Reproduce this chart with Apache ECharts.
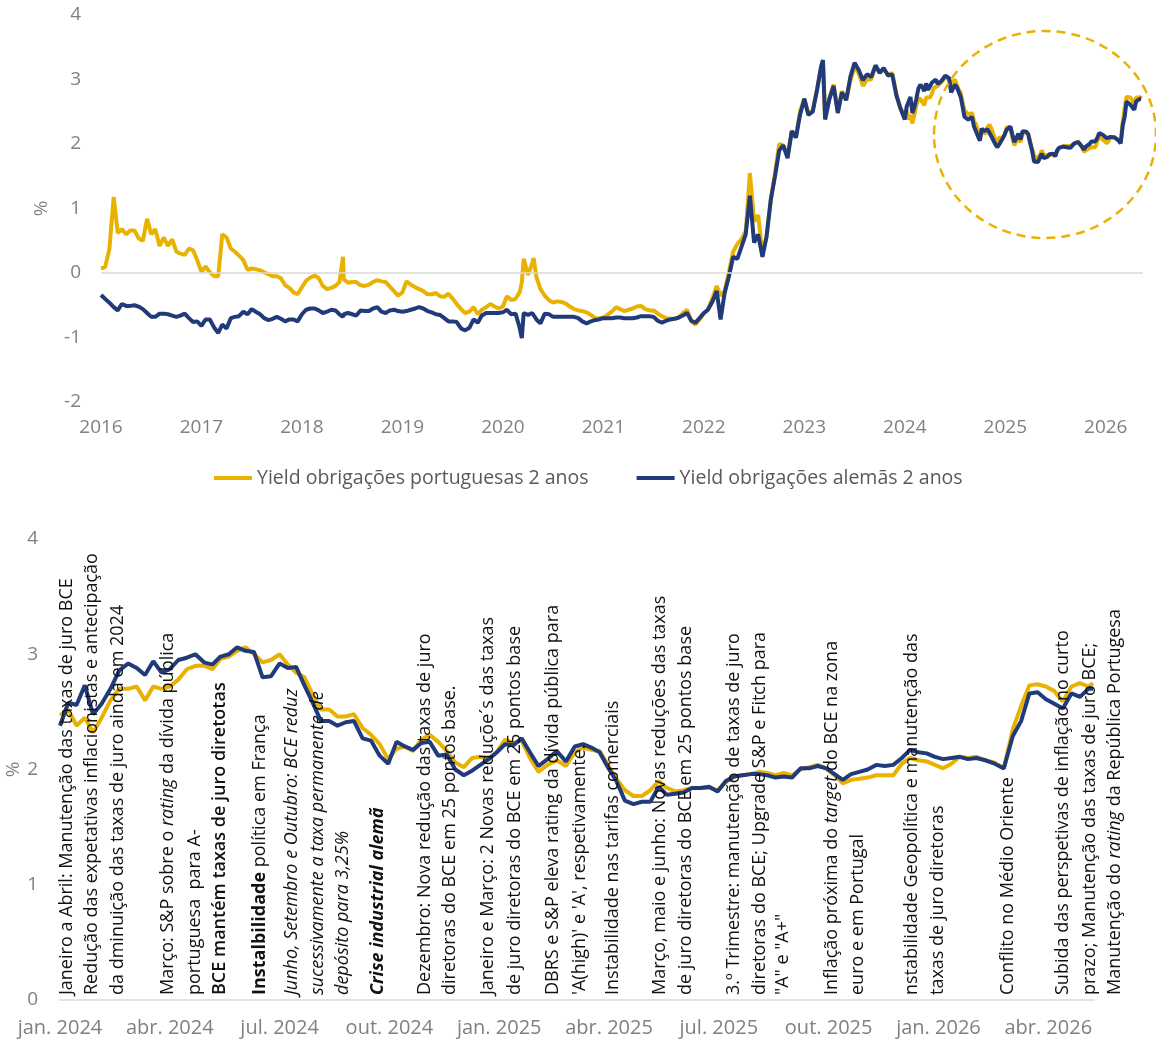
<!DOCTYPE html>
<html><head><meta charset="utf-8">
<script src="https://cdn.jsdelivr.net/npm/echarts@6/dist/echarts.min.js"></script>
<style>html,body{margin:0;padding:0;background:#fff}#c{width:1156px;height:1044px}</style>
</head><body><div id="c"></div>
<script>
// ---------- DATA ----------
const seriesNames = ['Yield obrigações portuguesas 2 anos', 'Yield obrigações alemãs 2 anos'];

// 2016-2023 (semi-monthly reading of the long chart, plus spike days)
const histDates = [
 '2016-01-01','2016-01-16','2016-02-01','2016-02-16','2016-03-01','2016-03-16','2016-04-01','2016-04-16','2016-05-01','2016-05-16','2016-06-01','2016-06-16','2016-07-01','2016-07-16','2016-08-01','2016-08-16','2016-09-01','2016-09-16','2016-10-01','2016-10-16','2016-11-01','2016-11-16','2016-12-01','2016-12-16',
 '2017-01-01','2017-01-16','2017-02-01','2017-02-16','2017-03-01','2017-03-16','2017-04-01','2017-04-16','2017-05-01','2017-05-16','2017-06-01','2017-06-16','2017-07-01','2017-07-16','2017-08-01','2017-08-16','2017-09-01','2017-09-16','2017-10-01','2017-10-16','2017-11-01','2017-11-16','2017-12-01','2017-12-16',
 '2018-01-01','2018-01-16','2018-02-01','2018-02-16','2018-03-01','2018-03-16','2018-04-01','2018-04-16','2018-05-01','2018-05-16','2018-05-29','2018-06-01','2018-06-16','2018-07-01','2018-07-16','2018-08-01','2018-08-16','2018-09-01','2018-09-16','2018-10-01','2018-10-16','2018-11-01','2018-11-16','2018-12-01','2018-12-16',
 '2019-01-01','2019-01-16','2019-02-01','2019-02-16','2019-03-01','2019-03-16','2019-04-01','2019-04-16','2019-05-01','2019-05-16','2019-06-01','2019-06-16','2019-07-01','2019-07-16','2019-08-01','2019-08-16','2019-09-01','2019-09-16','2019-10-01','2019-10-16','2019-11-01','2019-11-16','2019-12-01','2019-12-16',
 '2020-01-01','2020-01-16','2020-02-01','2020-02-16','2020-03-01','2020-03-09','2020-03-16','2020-04-01','2020-04-16','2020-04-21','2020-05-01','2020-05-16','2020-06-01','2020-06-16','2020-07-01','2020-07-16','2020-08-01','2020-08-16','2020-09-01','2020-09-16','2020-10-01','2020-10-16','2020-11-01','2020-11-16','2020-12-01','2020-12-16',
 '2021-01-01','2021-01-16','2021-02-01','2021-02-16','2021-03-01','2021-03-16','2021-04-01','2021-04-16','2021-05-01','2021-05-16','2021-06-01','2021-06-16','2021-07-01','2021-07-16','2021-08-01','2021-08-16','2021-09-01','2021-09-16','2021-10-01','2021-10-16','2021-11-01','2021-11-16','2021-12-01','2021-12-16',
 '2022-01-01','2022-01-16','2022-02-01','2022-02-16','2022-03-01','2022-03-16','2022-04-01','2022-04-16','2022-05-01','2022-05-16','2022-06-01','2022-06-16','2022-07-01','2022-07-16','2022-08-01','2022-08-16','2022-09-01','2022-09-16','2022-10-01','2022-10-16','2022-11-01','2022-11-16','2022-12-01','2022-12-16',
 '2023-01-01','2023-01-16','2023-02-01','2023-02-16','2023-03-01','2023-03-08','2023-03-16','2023-04-01','2023-04-16','2023-05-01','2023-05-16','2023-06-01','2023-06-16','2023-07-01','2023-07-16','2023-08-01','2023-08-16','2023-09-01','2023-09-16','2023-10-01','2023-10-16','2023-11-01','2023-11-16','2023-12-01','2023-12-16'
];
const histPT = [
 0.07,0.09,0.37,1.18,0.62,0.68,0.60,0.66,0.66,0.54,0.50,0.84,0.60,0.68,0.42,0.55,0.42,0.52,0.33,0.30,0.28,0.38,0.35,0.20,
 0.02,0.10,0.01,-0.05,-0.05,0.60,0.55,0.38,0.33,0.27,0.20,0.05,0.07,0.06,0.04,0.01,-0.02,-0.05,-0.05,-0.08,-0.19,-0.23,-0.30,-0.33,
 -0.22,-0.12,-0.07,-0.04,-0.08,-0.20,-0.25,-0.23,-0.20,-0.14,0.25,-0.10,-0.15,-0.14,-0.14,-0.19,-0.20,-0.18,-0.14,-0.11,-0.13,-0.14,-0.21,-0.28,-0.35,
 -0.30,-0.13,-0.18,-0.22,-0.25,-0.28,-0.33,-0.33,-0.31,-0.36,-0.37,-0.32,-0.40,-0.48,-0.56,-0.62,-0.60,-0.53,-0.64,-0.57,-0.53,-0.48,-0.52,-0.55,
 -0.52,-0.36,-0.42,-0.40,-0.30,-0.15,0.22,-0.03,0.15,0.23,-0.06,-0.25,-0.35,-0.42,-0.46,-0.44,-0.45,-0.47,-0.52,-0.56,-0.58,-0.59,-0.61,-0.65,-0.70,-0.70,
 -0.69,-0.65,-0.60,-0.53,-0.56,-0.59,-0.57,-0.55,-0.52,-0.51,-0.56,-0.58,-0.58,-0.63,-0.67,-0.70,-0.71,-0.71,-0.69,-0.62,-0.57,-0.75,-0.80,-0.72,
 -0.63,-0.57,-0.40,-0.20,-0.35,-0.28,0.02,0.33,0.45,0.52,0.65,1.55,0.80,0.90,0.30,0.56,1.14,1.55,2.00,1.98,1.82,2.20,2.12,2.50,
 2.70,2.47,2.52,2.85,3.18,3.28,2.40,2.72,2.92,2.50,2.82,2.68,2.98,3.20,3.10,2.90,3.00,3.00,3.20,3.12,3.15,3.08,3.10,2.78,2.55
];
const histDE = [
 -0.34,-0.40,-0.46,-0.53,-0.58,-0.48,-0.51,-0.51,-0.50,-0.52,-0.56,-0.62,-0.68,-0.68,-0.63,-0.63,-0.64,-0.66,-0.68,-0.66,-0.63,-0.70,-0.76,-0.75,
 -0.82,-0.72,-0.72,-0.85,-0.93,-0.80,-0.86,-0.70,-0.68,-0.67,-0.60,-0.64,-0.56,-0.60,-0.64,-0.70,-0.73,-0.71,-0.68,-0.71,-0.75,-0.72,-0.72,-0.75,
 -0.64,-0.57,-0.55,-0.55,-0.58,-0.62,-0.60,-0.57,-0.58,-0.64,-0.68,-0.64,-0.62,-0.64,-0.66,-0.58,-0.59,-0.59,-0.55,-0.53,-0.60,-0.62,-0.58,-0.57,-0.59,
 -0.60,-0.59,-0.57,-0.55,-0.53,-0.55,-0.59,-0.61,-0.64,-0.65,-0.70,-0.75,-0.75,-0.76,-0.86,-0.89,-0.85,-0.72,-0.77,-0.66,-0.62,-0.62,-0.62,-0.62,
 -0.61,-0.57,-0.64,-0.63,-0.85,-1.01,-0.62,-0.65,-0.62,-0.63,-0.72,-0.78,-0.63,-0.64,-0.68,-0.68,-0.68,-0.68,-0.68,-0.68,-0.70,-0.75,-0.78,-0.75,-0.73,-0.72,
 -0.70,-0.70,-0.70,-0.69,-0.69,-0.70,-0.70,-0.70,-0.69,-0.67,-0.67,-0.67,-0.68,-0.74,-0.77,-0.74,-0.72,-0.71,-0.69,-0.66,-0.62,-0.74,-0.77,-0.70,
 -0.62,-0.57,-0.45,-0.28,-0.72,-0.31,-0.05,0.25,0.22,0.40,0.60,1.20,0.47,0.60,0.25,0.56,1.14,1.50,1.90,1.98,1.78,2.20,2.10,2.45,
 2.70,2.45,2.50,2.85,3.20,3.30,2.38,2.70,2.90,2.48,2.80,2.68,3.04,3.26,3.15,2.99,3.08,3.04,3.22,3.10,3.18,3.06,3.08,2.75,2.55
];

// 2024-2026 (weekly reading of the zoomed chart)
const recentDates = [
 '2024-01-01','2024-01-08','2024-01-15','2024-01-22','2024-01-29','2024-02-05','2024-02-12','2024-02-19','2024-02-26','2024-03-04','2024-03-11','2024-03-18','2024-03-25',
 '2024-04-01','2024-04-08','2024-04-15','2024-04-22','2024-04-29','2024-05-06','2024-05-13','2024-05-20','2024-05-27','2024-06-03','2024-06-10','2024-06-17','2024-06-24',
 '2024-07-01','2024-07-08','2024-07-15','2024-07-22','2024-07-29','2024-08-05','2024-08-12','2024-08-19','2024-08-26','2024-09-02','2024-09-09','2024-09-16','2024-09-23','2024-09-30',
 '2024-10-07','2024-10-14','2024-10-21','2024-10-28','2024-11-04','2024-11-11','2024-11-18','2024-11-25','2024-12-02','2024-12-09','2024-12-16','2024-12-23','2024-12-30',
 '2025-01-06','2025-01-13','2025-01-20','2025-01-27','2025-02-03','2025-02-10','2025-02-17','2025-02-24','2025-03-03','2025-03-10','2025-03-17','2025-03-24','2025-03-31',
 '2025-04-07','2025-04-14','2025-04-21','2025-04-28','2025-05-05','2025-05-12','2025-05-19','2025-05-26','2025-06-02','2025-06-09','2025-06-16','2025-06-23','2025-06-30',
 '2025-07-07','2025-07-14','2025-07-21','2025-07-28','2025-08-04','2025-08-11','2025-08-18','2025-08-25','2025-09-01','2025-09-08','2025-09-15','2025-09-22','2025-09-29',
 '2025-10-06','2025-10-13','2025-10-20','2025-10-27','2025-11-03','2025-11-10','2025-11-17','2025-11-24','2025-12-01','2025-12-08','2025-12-15','2025-12-22','2025-12-29',
 '2026-01-05','2026-01-12','2026-01-19','2026-01-26','2026-02-02','2026-02-09','2026-02-16','2026-02-23','2026-03-02','2026-03-09','2026-03-16','2026-03-23','2026-03-30',
 '2026-04-06','2026-04-13','2026-04-20','2026-04-27','2026-05-04','2026-05-08'
];
const recentPT = [
 2.47,2.52,2.38,2.45,2.32,2.45,2.60,2.70,2.70,2.72,2.60,2.72,2.70,
 2.72,2.78,2.87,2.90,2.90,2.87,2.96,2.98,3.03,3.06,3.00,2.93,2.95,
 3.00,2.91,2.84,2.80,2.65,2.52,2.52,2.46,2.46,2.48,2.36,2.30,2.22,2.09,
 2.18,2.20,2.16,2.26,2.30,2.24,2.16,2.06,2.02,2.10,2.11,2.09,2.15,
 2.26,2.23,2.25,2.10,1.98,2.04,2.08,2.03,2.15,2.19,2.17,2.16,2.04,
 1.92,1.82,1.77,1.77,1.82,1.90,1.84,1.81,1.82,1.84,1.84,1.84,1.82,
 1.89,1.94,1.95,1.96,1.98,1.97,1.95,1.97,1.95,2.00,2.02,2.04,2.01,
 1.95,1.88,1.91,1.92,1.93,1.95,1.95,1.95,2.05,2.10,2.08,2.07,2.04,
 2.01,2.05,2.11,2.10,2.11,2.08,2.06,2.01,2.35,2.55,2.73,2.74,2.72,
 2.68,2.59,2.72,2.75,2.72,2.75
];
const recentDE = [
 2.38,2.58,2.56,2.73,2.48,2.57,2.70,2.86,2.92,2.88,2.82,2.94,2.84,
 2.87,2.95,2.97,3.00,2.93,2.91,2.98,3.00,3.06,3.03,3.02,2.80,2.81,
 2.92,2.88,2.89,2.73,2.58,2.42,2.42,2.38,2.41,2.42,2.27,2.25,2.12,2.05,
 2.24,2.20,2.17,2.23,2.24,2.12,2.13,2.00,1.95,1.99,2.04,2.09,2.15,
 2.22,2.21,2.27,2.15,2.03,2.09,2.16,2.07,2.20,2.22,2.19,2.15,2.02,
 1.90,1.73,1.70,1.72,1.72,1.85,1.78,1.79,1.80,1.84,1.84,1.85,1.81,
 1.90,1.94,1.95,1.96,1.96,1.95,1.93,1.94,1.93,2.01,2.01,2.03,2.01,
 1.96,1.91,1.96,1.98,2.00,2.04,2.03,2.04,2.10,2.17,2.15,2.14,2.11,
 2.09,2.10,2.11,2.09,2.10,2.08,2.05,2.01,2.29,2.42,2.66,2.67,2.61,
 2.57,2.53,2.66,2.63,2.70,2.70
];

const quarterNames = ['jan.', 'abr.', 'jul.', 'out.'];

// annotation texts (rotated columns) in the lower chart
const annotationTexts = [
 'Janeiro a Abril: Manutenção das taxas de juro BCE',
 'Redução das expetativas inflacionistas e antecipação',
 'da dminuição das taxas de juro ainda em 2024',
 'Março: S&P sobre o {i|rating} da dívida pública',
 'portuguesa  para A-',
 '{m|BCE mantém taxas de juro diretotas}',
 '{b|Instalbilidade} política em França',
 '{i|Junho, Setembro e Outubro: BCE reduz}',
 '{i|sucessivamente a taxa permanente de}',
 '{i|depósito para 3,25%}',
 '{bi|Crise industrial alemã}',
 'Dezembro: Nova redução das taxas de juro',
 'diretoras do BCE em 25 pontos base.',
 'Janeiro e Março: 2 Novas reduçõe´s das taxas',
 'de juro diretoras do BCE em 25 pontos base',
 'DBRS e S&P eleva rating da dívida pública para',
 '\'A(high)\' e \'A\', respetivamente.',
 'Instabilidade nas tarifas comerciais',
 'Março, maio e junho: Novas reduções das taxas',
 'de juro diretoras do BCE em 25 pontos base',
 '3.º Trimestre: manutenção de taxas de juro',
 'diretoras do BCE; Upgrade S&P e Fitch para',
 '"A" e "A+"',
 'Inflação próxima do {i|target} do BCE na zona',
 'euro e em Portugal',
 'nstabilidade Geopolítica e manutenção das',
 'taxas de juro diretoras',
 'Conflito no Médio Oriente',
 'Subida das perspetivas de inflação no curto',
 'prazo; Manutenção das taxas de juro BCE;',
 'Manutenção do {i|rating} da República Portugesa'
];

// ---------- LAYOUT ----------
const annotationX = [66.7,92.3,118.3,168.3,195,220,260,291.7,318.3,343.3,378.3,425,450,488.3,515,553.3,580,613.3,660,686,734,760,783.3,831.7,858.3,911.7,938.3,1008.3,1063.3,1090,1115];

function monthsSince(dateStr, baseYear) {
  const [y, m, d] = dateStr.split('-').map(Number);
  const dim = new Date(y, m, 0).getDate();
  return (y - baseYear) * 12 + (m - 1) + (d - 1) / dim;
}

const allDates = histDates.concat(recentDates);
const allPT = histPT.concat(recentPT);
const allDE = histDE.concat(recentDE);

const topPT = allDates.map((d, i) => [monthsSince(d, 2016), allPT[i]]);
const topDE = allDates.map((d, i) => [monthsSince(d, 2016), allDE[i]]);
const botPT = recentDates.map((d, i) => [monthsSince(d, 2024), recentPT[i]]);
const botDE = recentDates.map((d, i) => [monthsSince(d, 2024), recentDE[i]]);

const YEL = '#EAB200', NAVY = '#203A7A', GRAY = '#808080', FONT = 'Open Sans';
const AFS = 18;

const richStyles = {
  i: { fontStyle: 'italic', fontFamily: FONT, fontSize: AFS, fill: '#111' },
  b: { fontWeight: 'bold', fontFamily: FONT, fontSize: AFS, fill: '#111' },
  m: { fontWeight: 600, fontFamily: FONT, fontSize: AFS, fill: '#111' },
  bi: { fontWeight: 'bold', fontStyle: 'italic', fontFamily: FONT, fontSize: AFS, fill: '#111' }
};

const graphics = annotationTexts.map((t, i) => ({
  type: 'text', x: annotationX[i], y: 995, rotation: Math.PI / 2, z: 100,
  style: { text: t, fontFamily: FONT, fontSize: AFS, fill: '#111', align: 'left', verticalAlign: 'middle', rich: richStyles }
}));
graphics.push({
  type: 'ellipse', shape: { cx: 1045, cy: 134.5, rx: 111, ry: 103.5 }, z: 100,
  style: { fill: 'none', stroke: YEL, lineWidth: 2.5, lineDash: [9, 6] }
});

const chart = echarts.init(document.getElementById('c'), null, { renderer: 'canvas' });
const lineBase = { type: 'line', showSymbol: false, symbol: 'none', lineStyle: { width: 4 }, animation: false };
chart.setOption({
  backgroundColor: '#fff',
  animation: false,
  textStyle: { fontFamily: FONT },
  grid: [
    { left: 101, right: 13, top: 15, height: 387, outerBoundsMode: 'none', containLabel: false },
    { left: 60, right: 62, top: 539, height: 461, outerBoundsMode: 'none', containLabel: false }
  ],
  legend: {
    data: seriesNames, top: 463, left: 209, icon: 'rect', itemWidth: 38, itemHeight: 4, itemGap: 48,
    textStyle: { fontSize: 19.5, color: '#595959', fontFamily: FONT }
  },
  xAxis: [
    { type: 'value', gridIndex: 0, min: 0, max: 124.45, interval: 12,
      axisLine: { show: false }, axisTick: { show: false }, splitLine: { show: false },
      axisLabel: { color: GRAY, fontSize: 19, margin: 16, showMaxLabel: false, hideOverlap: false,
        formatter: v => (v % 12 === 0 ? String(2016 + v / 12) : '') } },
    { type: 'value', gridIndex: 1, min: 0, max: 28.25, interval: 3,
      axisLine: { show: true, lineStyle: { color: '#D9D9D9', width: 1.5 } }, axisTick: { show: false }, splitLine: { show: false },
      axisLabel: { color: GRAY, fontSize: 20, margin: 18, showMaxLabel: false, hideOverlap: false,
        formatter: v => (v % 3 === 0 ? quarterNames[(v % 12) / 3] + ' ' + (2024 + Math.floor(v / 12)) : '') } }
  ],
  yAxis: [
    { type: 'value', gridIndex: 0, min: -2, max: 4, interval: 1, name: '%', nameLocation: 'middle', nameGap: 50, nameRotate: 90,
      nameMoveOverlap: false,
      nameTextStyle: { color: GRAY, fontSize: 19 },
      axisLine: { show: false }, axisTick: { show: false }, splitLine: { show: false },
      axisLabel: { color: GRAY, fontSize: 19, margin: 20 } },
    { type: 'value', gridIndex: 1, min: 0, max: 4, interval: 1, name: '%', nameLocation: 'middle', nameGap: 37, nameRotate: 90,
      nameMoveOverlap: false,
      nameTextStyle: { color: GRAY, fontSize: 19 },
      axisLine: { show: false }, axisTick: { show: false }, splitLine: { show: false },
      axisLabel: { color: GRAY, fontSize: 19, margin: 22 } }
  ],
  series: [
    Object.assign({}, lineBase, { name: seriesNames[0], xAxisIndex: 0, yAxisIndex: 0, data: topPT, color: YEL,
      lineStyle: { width: 4, color: YEL },
      markLine: { silent: true, symbol: 'none', label: { show: false }, lineStyle: { color: '#D9D9D9', width: 1.5, type: 'solid' }, data: [{ yAxis: 0 }] } }),
    Object.assign({}, lineBase, { name: seriesNames[1], xAxisIndex: 0, yAxisIndex: 0, data: topDE, color: NAVY, lineStyle: { width: 4, color: NAVY } }),
    Object.assign({}, lineBase, { name: seriesNames[0], xAxisIndex: 1, yAxisIndex: 1, data: botPT, color: YEL, lineStyle: { width: 4, color: YEL } }),
    Object.assign({}, lineBase, { name: seriesNames[1], xAxisIndex: 1, yAxisIndex: 1, data: botDE, color: NAVY, lineStyle: { width: 4, color: NAVY } })
  ],
  graphic: graphics
});
</script></body></html>
